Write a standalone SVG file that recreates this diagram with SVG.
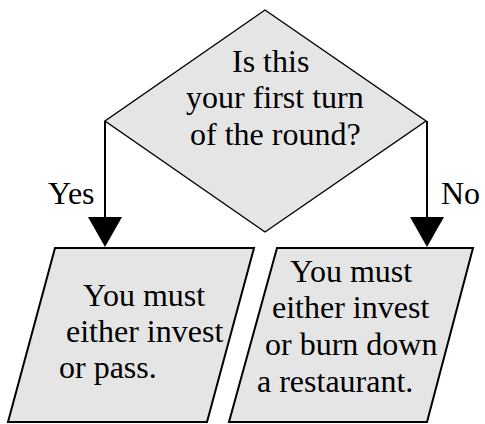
<svg xmlns="http://www.w3.org/2000/svg" width="485" height="424" viewBox="0 0 485 424">
<style>
.shape{fill:#e5e5e5;stroke:#000;stroke-linejoin:miter}
.lbl{font-family:"Times New Roman",Times,"Liberation Serif",serif;font-size:32px;fill:#000}
.conn{stroke:#000;stroke-width:2;fill:none}
.head{fill:#000}
</style>
<rect width="485" height="424" fill="#fff"/>
<g id="decision">
<polygon class="shape" stroke-width="1.4" points="265,10 426,121 265,232 105,121"/>
<text class="lbl" x="232" y="72">Is this</text>
<text class="lbl" x="186" y="108">your first turn</text>
<text class="lbl" x="190" y="145">of the round?</text>
</g>
<g id="connectors">
<polyline class="conn" points="105,121 105,218"/>
<polyline class="conn" points="427,121 427,218"/>
<path class="head" d="M88,217 L122,217 L105,247 Z"/>
<path class="head" d="M410,217 L444,217 L427,247 Z"/>
<text class="lbl" x="48" y="204">Yes</text>
<text class="lbl" x="441" y="204">No</text>
</g>
<g id="yes-box">
<polygon class="shape" stroke-width="2" points="55,248 254,248 207,422 8,422"/>
<text class="lbl" x="83" y="306">You must</text>
<text class="lbl" x="66" y="342">either invest</text>
<text class="lbl" x="59" y="378">or pass.</text>
</g>
<g id="no-box">
<polygon class="shape" stroke-width="2" points="277,248 473,248 427,422 229,422"/>
<text class="lbl" x="290" y="282">You must</text>
<text class="lbl" x="272" y="318">either invest</text>
<text class="lbl" x="265" y="355">or burn down</text>
<text class="lbl" x="257" y="392">a restaurant.</text>
</g>
</svg>
